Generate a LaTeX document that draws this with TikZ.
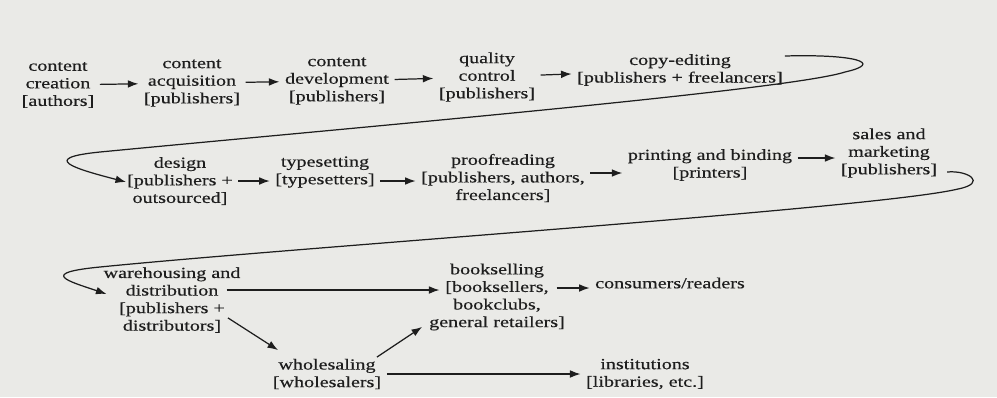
\documentclass[tikz,border=0pt]{standalone}
\usepackage{fontspec}
\setmainfont{Liberation Serif}[FakeStretch=1.3,FakeBold=0.4]
\definecolor{PaperGrey}{RGB}{234,234,231}
\definecolor{InkGrey}{RGB}{30,30,30}
\usetikzlibrary{arrows.meta,calc}

\begin{document}
\begin{tikzpicture}[x=0.02cm,y=-0.02cm,>={Latex[length=6pt,width=4.4pt]},
    stage/.style={align=center,inner sep=1pt,text=InkGrey,font=\fontsize{8.8}{10}\selectfont},
    ar/.style={->,draw=InkGrey,line width=0.7pt,shorten <=2pt,shorten >=2pt},
    sweep/.style={->,draw=InkGrey,line width=0.7pt}]
    \fill[PaperGrey] (0,0) rectangle (997,397);
    \node[stage] (create)   at (58,85)   {content\\creation\\{}[authors]};
    \node[stage] (acquire)  at (192,83)  {content\\acquisition\\{}[publishers]};
    \node[stage] (develop)  at (337,81)  {content\\development\\{}[publishers]};
    \node[stage] (quality)  at (487,77)  {quality\\control\\{}[publishers]};
    \node[stage] (copyedit) at (680,70)  {copy-editing\\{}[publishers + freelancers]};
    \node[stage] (design)   at (180,181) {design\\{}[publishers +\\outsourced]};
    \node[stage] (typeset)  at (325,172) {typesetting\\{}[typesetters]};
    \node[stage] (proof)    at (503,178) {proofreading\\{}[publishers, authors,\\freelancers]};
    \node[stage] (print)    at (710,165) {printing and binding\\{}[printers]};
    \node[stage] (sales)    at (889,153) {sales and\\marketing\\{}[publishers]};
    \node[stage] (wareh)    at (172,300) {warehousing and\\distribution\\{}[publishers +\\distributors]};
    \node[stage] (booksell) at (497,297) {bookselling\\{}[booksellers,\\bookclubs,\\general retailers]};
    \node[stage] (consumer) at (670,283) {consumers/readers};
    \node[stage] (whole)    at (327,374) {wholesaling\\{}[wholesalers]};
    \node[stage] (instit)   at (645,374) {institutions\\{}[libraries, etc.]};
    \foreach \a/\b in {create/acquire,acquire/develop,develop/quality,quality/copyedit} \draw[ar] (\a) -- (\b);
    \draw[ar] (design) -- (design -| typeset.west);
    \draw[ar] (design -| typeset.east) -- (design -| proof.west);
    \draw[ar] ($(proof.east)+(0,-5)$) -- ($(proof.east -| print.west)+(0,-5)$);
    \draw[ar] ($(print.east)+(0,-7)$) -- ($(print.east -| sales.west)+(0,-7)$);
    \draw[ar] ($(wareh)+(51,-10)$) -- ($(booksell)+(-54,-7)$);
    \draw[ar] ($(wareh)+(53,16)$) -- ($(whole)+(-46,-22)$);
    \draw[ar] ($(whole)+(47,-15)$) -- ($(booksell)+(-72,28)$);
    \draw[ar] (whole) -- (instit);
    \draw[ar] ($(booksell)+(56,-9)$) -- ($(consumer.west)+(0,5)$);
    \draw[sweep] ($(copyedit.east)+(0,-14)$) .. controls (855,54) and (885,63) .. (845,72)
        .. controls (790,90) and (350,128) .. (100,152)
        .. controls (40,158) and (72,168) .. ($(design.west)+(1,1)$);
    \draw[sweep] ($(sales.east)+(8,19)$) .. controls (968,170) and (988,183) .. (958,189)
        .. controls (880,208) and (300,247) .. (100,267)
        .. controls (38,273) and (68,281) .. ($(wareh.west)+(5,-6)$);
\end{tikzpicture}
\end{document}
